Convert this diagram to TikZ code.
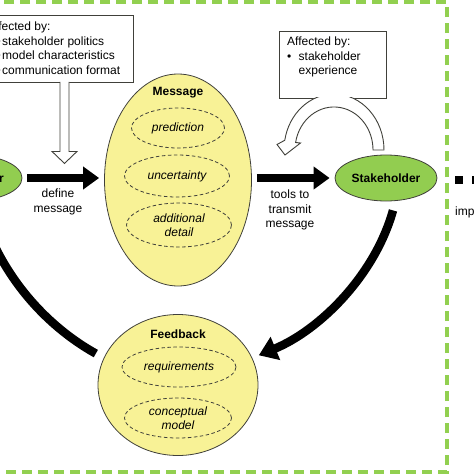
\documentclass[tikz,border=0pt]{standalone}
\usepackage{fontspec}
\setmainfont{Liberation Sans}
\usetikzlibrary{arrows.meta, shapes.geometric}

\definecolor{frameGreen}{RGB}{146,208,80}
\definecolor{nodeGreen}{RGB}{146,205,80}
\definecolor{msgYellow}{RGB}{248,242,150}
\definecolor{edgeGray}{RGB}{64,64,58}

\begin{document}
\begin{tikzpicture}[x=1pt, y=-1pt,
   every node/.style={font=\fontsize{12}{14.5}\selectfont},
   actor/.style={ellipse, draw=edgeGray, fill=nodeGreen, line width=0.8pt, minimum width=102pt, minimum height=46pt, inner sep=0pt, font=\fontsize{12}{14.5}\selectfont\bfseries},
   bubble/.style={ellipse, draw=edgeGray, fill=msgYellow, line width=0.8pt, inner sep=0pt},
   item/.style={ellipse, draw=edgeGray, dash pattern=on 3.5pt off 2.5pt, line width=0.8pt, inner sep=0pt, align=center, font=\fontsize{12}{14.5}\selectfont\itshape},
   infobox/.style={draw=edgeGray, fill=white, line width=0.9pt, inner sep=0pt},
   boxtext/.style={anchor=north west, inner sep=0pt, align=left},
   flow/.style={line width=8pt, -{Triangle[length=16pt,width=22pt]}, shorten <=5pt, shorten >=5pt},
   loopback/.style={line width=8.5pt, -{Triangle[length=18pt,width=24pt]}},
   hollow/.style={draw=edgeGray, fill=white, line width=0.9pt, line join=miter}]

   \useasboundingbox (0,0) rectangle (474,474);
   \clip (0,0) rectangle (474,474);

   % Frame
      \draw[frameGreen, line width=4pt, dash pattern=on 10pt off 6pt] (-20,2) rectangle (447,472);

   % Nodes
      \node[actor]                                              (res)    at (-29,178)  {Researcher};
      \node[actor]                                              (stake)  at (386,178)  {Stakeholder};
      \node[bubble, minimum width=147pt, minimum height=212pt]  (msg)    at (178,180)  {};
      \node[font=\fontsize{12}{14.5}\selectfont\bfseries]       (msgttl) at (178,93)   {Message};
      \node[item, minimum width=93pt, minimum height=40pt]      (pred)   at (178,128)  {prediction};
      \node[item, minimum width=105pt, minimum height=42pt]     (unc)    at (177,176)  {uncertainty};
      \node[item, minimum width=105pt, minimum height=44pt]     (detail) at (179,225)  {additional\\detail};
      \node[bubble, minimum width=160pt, minimum height=141pt]  (fb)     at (178,385)  {};
      \node[font=\fontsize{12}{14.5}\selectfont\bfseries]       (fbttl)  at (178,334.5) {Feedback};
      \node[item, minimum width=114pt, minimum height=40pt]     (req)    at (179,367)  {requirements};
      \node[item, minimum width=107pt, minimum height=40pt]     (concept) at (178,418) {conceptual\\model};

   % Boxes
      \node[infobox, minimum width=152pt, minimum height=67pt]  (polbox) at (57,48.5)  {};
      \node[boxtext] (poltext) at (-13,22) {Affected by:\\
         \hspace*{9.5pt}\makebox[5.5pt][l]{\textbullet}stakeholder politics\\
         \hspace*{9.5pt}\makebox[5.5pt][l]{\textbullet}model characteristics\\
         \hspace*{9.5pt}\makebox[5.5pt][l]{\textbullet}communication format};
      \node[infobox, minimum width=107pt, minimum height=67pt]  (expbox) at (332.5,64.5) {};
      \node[boxtext] (exptext) at (287,37) {Affected by:\\
         \makebox[11.5pt][l]{\textbullet}stakeholder\\
         \hspace*{11.5pt}experience};

   % Block arrows
      \draw[hollow] ([xshift=3pt, yshift=0.6pt]polbox.south) -- ++(0,69.6) -- ++(-8,0) -- ++(12.5,12)
                    -- ++(12.5,-12) -- ++(-8,0) -- ++(0,-69.6);
      \begin{scope}
         \clip (250,97.6) rectangle (420,200);
         \draw[hollow] (384,150) arc[start angle=0, end angle=-170, x radius=50, y radius=56]
                       -- (277,144.5) -- (285,155) -- (300.5,143) -- (295.6,142.5)
                       arc[start angle=-170, end angle=0, x radius=39, y radius=43] -- cycle;
      \end{scope}

   % Paths
      \draw[flow] (res.east) -- (res.east -| msg.west);
      \draw[flow] (msg.east |- stake.west) -- (stake.west);
      \draw[loopback, shorten >=7pt] ([xshift=7pt, yshift=-9pt]stake.south) .. controls (375,275) and (320,330) .. (fb.20);
      \draw[loopback, shorten <=9pt] (fb.160) .. controls (50,328) and (5,282) .. (res.-75);
      \draw[line width=8pt, dash pattern=on 8pt off 9pt] ([xshift=18pt, yshift=-2pt]stake.east) -- ++(40,0);

   % Labels
      \node[align=center, inner sep=0pt] (deflbl)  at (58,202)  {define\\message};
      \node[align=center, inner sep=0pt] (toollbl) at (290,210) {tools to\\transmit\\message};
      \node[anchor=base west, inner sep=0pt] (impl) at (455,215) {implementation};
\end{tikzpicture}
\end{document}
